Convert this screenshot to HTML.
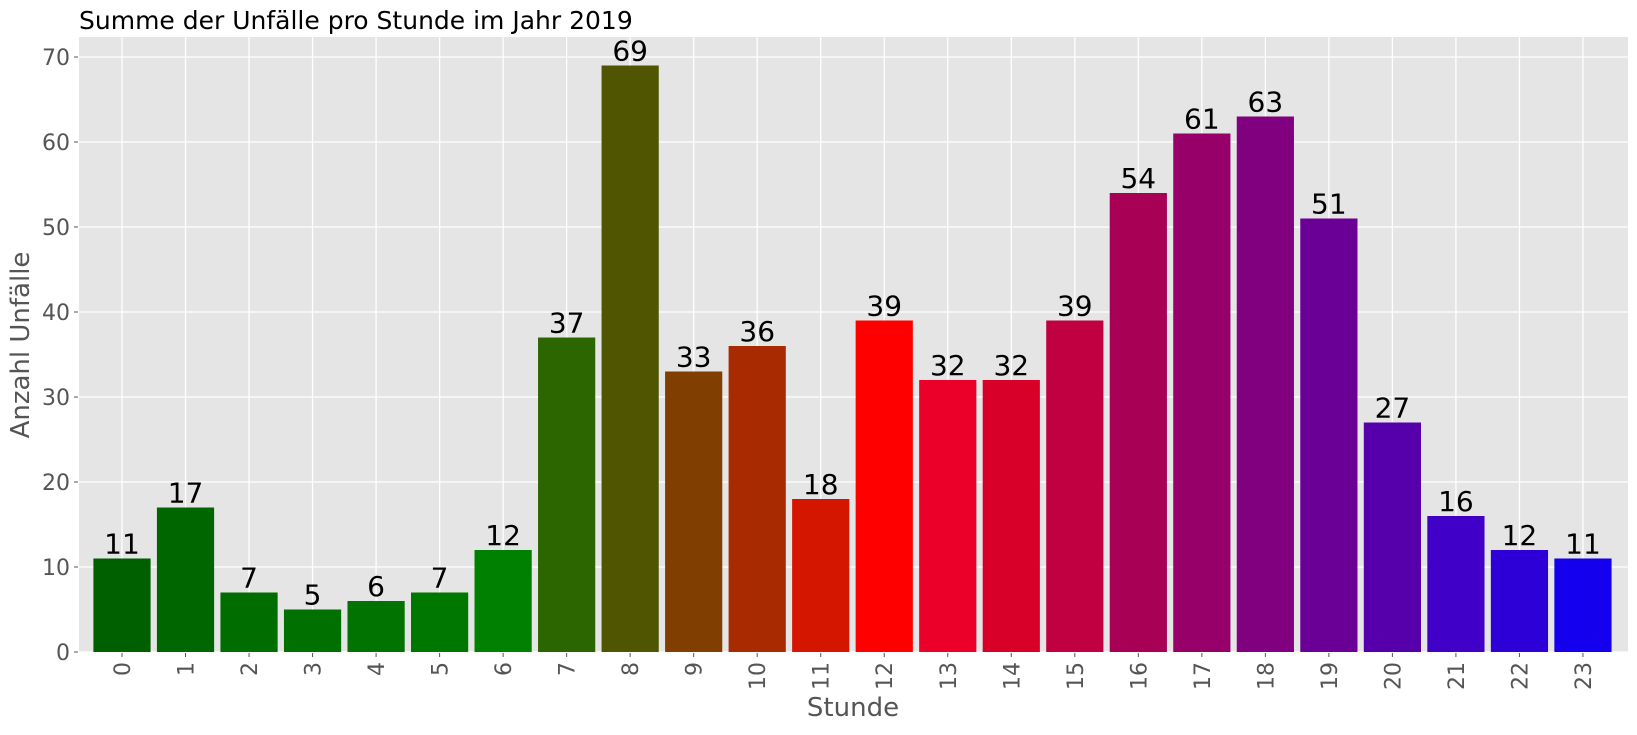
<!DOCTYPE html>
<html><head><meta charset="utf-8"><style>
body{margin:0;background:#fff;width:1637px;height:730px;overflow:hidden}
svg{font-family:"DejaVu Sans","Liberation Sans",sans-serif}
</style></head><body>
<svg id="chart" width="1637" height="730" xmlns="http://www.w3.org/2000/svg">
<text x="79" y="29" font-size="25" fill="#000">Summe der Unfälle pro Stunde im Jahr 2019</text>
<rect x="79" y="37" width="1549" height="615" fill="#e5e5e5"/>
<g id="grid"></g><g id="bars"></g><g id="labels"></g><g id="ticks"></g>
<text x="853" y="716" font-size="26" fill="#555" text-anchor="middle">Stunde</text>
<text transform="translate(29,345) rotate(-90)" font-size="26" fill="#555" text-anchor="middle">Anzahl Unfälle</text>
</svg>
<script>
const hours=["0","1","2","3","4","5","6","7","8","9","10","11","12","13","14","15","16","17","18","19","20","21","22","23"];
const counts=[11,17,7,5,6,7,12,37,69,33,36,18,39,32,32,39,54,61,63,51,27,16,12,11];
const yTicks=[0,10,20,30,40,50,60,70];
const colors=["#006000","#006700","#006d00","#007000","#007300","#007800","#008000","#2b6600","#4f5500","#803f00","#a82a00","#d41500","#ff0000","#ea0028","#d80028","#c00040","#a80055","#960068","#800080","#6a0095","#5500aa","#4000c8","#2d00d8","#1500ee"];
const NS="http://www.w3.org/2000/svg";
const xS=i=>122+i*63.52;
const yS=v=>652-v*8.5;
const bw=57.2;
function mk(tag,attrs,parent){const e=document.createElementNS(NS,tag);for(const k in attrs)e.setAttribute(k,attrs[k]);document.getElementById(parent).appendChild(e);return e;}
yTicks.forEach(t=>{
  const l=mk('line',{x1:79,x2:1628,y1:yS(t),y2:yS(t),stroke:'#fff','stroke-width':1.3},'grid');
  
  
  const tk=mk('line',{x1:74,x2:78,y1:yS(t),y2:yS(t),stroke:'#555'},'ticks');
  
  
  const tx=mk('text',{x:70,y:yS(t)+8,'font-size':22,fill:'#555','text-anchor':'end'},'ticks');
  tx.textContent=t;
  
  
});
hours.forEach((h,i)=>{
  const x=xS(i);
  const g=mk('line',{x1:x,x2:x,y1:37,y2:652,stroke:'#fff','stroke-width':1.3},'grid');
  
  
  const b=mk('rect',{x:x-bw/2,y:yS(counts[i]),width:bw,height:yS(0)-yS(counts[i]),fill:colors[i]},'bars');
  
  
  const v=mk('text',{x:x,y:yS(counts[i])-5,'font-size':28,fill:'#000','text-anchor':'middle'},'labels');
  v.textContent=counts[i];
  
  
  const tk=mk('line',{x1:x,x2:x,y1:653,y2:657,stroke:'#555'},'ticks');
  
  
  const tx=mk('text',{transform:`translate(${x+8},662) rotate(-90)`,'font-size':22,fill:'#555','text-anchor':'end'},'ticks');
  tx.textContent=h;
  
  
});
</script>
</body></html>
